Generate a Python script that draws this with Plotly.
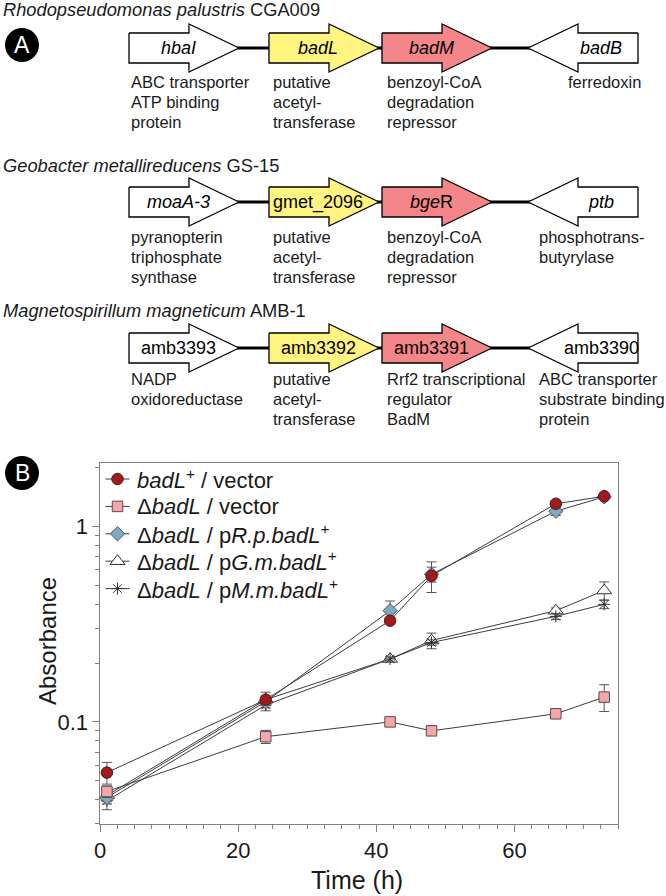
import plotly.graph_objects as go

# ---- panel B: growth curves ----
time_h = [1, 24, 42, 48, 66, 73]

wt_vector = [0.055, 0.130, 0.330, 0.560, 1.31, 1.43]
wt_vector_err = [0.007, 0.006, 0.012, 0.10, 0.05, 0.03]
del_vector = [0.044, 0.084, 0.100, 0.090, 0.110, 0.134]
del_vector_err = [0.003, 0.0065, 0.004, 0.003, 0.004, 0.021]
del_rp = [0.041, 0.127, 0.371, 0.570, 1.20, 1.42]
del_rp_err = [0.003, 0.006, 0.045, 0.05, 0.06, 0.03]
del_gm = [0.042, 0.130, 0.210, 0.261, 0.371, 0.471]
del_gm_err = [0.003, 0.012, 0.006, 0.024, 0.012, 0.05]
del_mm = [0.0395, 0.122, 0.210, 0.255, 0.347, 0.400]
del_mm_err = [0.004, 0.008, 0.005, 0.008, 0.012, 0.02]

series_names = [
    "<i>badL</i><sup>+</sup> / vector",
    "Δ<i>badL</i> / vector",
    "Δ<i>badL</i> / p<i>R.p.badL</i><sup>+</sup>",
    "Δ<i>badL</i> / p<i>G.m.badL</i><sup>+</sup>",
    "Δ<i>badL</i> / p<i>M.m.badL</i><sup>+</sup>",
]

# ---- panel A: gene neighbourhoods ----
species = [
    "<i>Rhodopseudomonas palustris</i> CGA009",
    "<i>Geobacter metallireducens</i> GS-15",
    "<i>Magnetospirillum magneticum</i> AMB-1",
]
gene_names = [
    ["<i>hbaI</i>", "<i>badL</i>", "<i>badM</i>", "<i>badB</i>"],
    ["<i>moaA-3</i>", "gmet_2096", "<i>bge</i>R", "<i>ptb</i>"],
    ["amb3393", "amb3392", "amb3391", "amb3390"],
]
gene_desc = [
    [["ABC transporter", "ATP binding", "protein"], ["putative", "acetyl-", "transferase"],
     ["benzoyl-CoA", "degradation", "repressor"], ["ferredoxin"]],
    [["pyranopterin", "triphosphate", "synthase"], ["putative", "acetyl-", "transferase"],
     ["benzoyl-CoA", "degradation", "repressor"], ["phosphotrans-", "butyrylase"]],
    [["NADP", "oxidoreductase"], ["putative", "acetyl-", "transferase"],
     ["Rrf2 transcriptional", "regulator", "BadM"], ["ABC transporter", "substrate binding", "protein"]],
]
gene_strand = [1, 1, 1, -1]
gene_role = ["other", "acetyltransferase", "regulator", "other"]

role_color = {"other": "white", "acetyltransferase": "#FFF47F", "regulator": "#F4868A"}

# layout of the schematic (pixel units on a hidden axis)
slot_left = [129, 269, 382, 528]
arrow_len = 110
row_center = [48, 202, 348]
title_y = [9, 165, 310]
desc_left = [[129, 271, 385, 566], [129, 271, 385, 537], [129, 271, 385, 537]]
desc_first = [34, 35, 31]
desc_step = 20

FONT = "Liberation Sans, Arial, sans-serif"
TXT = "#1a1a1a"


def arrow_xy(x0, length, yc, strand):
    body, head, head_len = 15, 24, 50
    if strand > 0:
        tail, tip = x0, x0 + length
        neck = tip - head_len
    else:
        tail, tip = x0 + length, x0
        neck = tip + head_len
    xs = [tail, neck, neck, tip, neck, neck, tail, tail]
    ys = [yc - body, yc - body, yc - head, yc, yc + head, yc + body, yc + body, yc - body]
    return xs, ys


fig = go.Figure()

annotations = []
for r in range(3):
    yc = row_center[r]
    # backbone line
    fig.add_trace(go.Scatter(x=[slot_left[0] + 60, slot_left[3] + 60], y=[yc, yc], mode="lines",
                             line=dict(color="black", width=3), xaxis="x2", yaxis="y2",
                             hoverinfo="skip"))
    for g in range(4):
        xs, ys = arrow_xy(slot_left[g], arrow_len, yc, gene_strand[g])
        fig.add_trace(go.Scatter(x=xs, y=ys, mode="lines", fill="toself",
                                 fillcolor=role_color[gene_role[g]],
                                 line=dict(color="black", width=1.3),
                                 xaxis="x2", yaxis="y2", hoverinfo="skip"))
        if gene_strand[g] > 0:
            lx = slot_left[g] + 49
        else:
            lx = slot_left[g] + arrow_len - 37
        annotations.append(dict(x=lx, y=yc, xref="x2", yref="y2", text=gene_names[r][g],
                                 showarrow=False, font=dict(family=FONT, size=18, color="black")))
        for k, line in enumerate(gene_desc[r][g]):
            annotations.append(dict(x=desc_left[r][g], y=yc + desc_first[r] + k * desc_step,
                                     xref="x2", yref="y2", text=line, showarrow=False,
                                     xanchor="left", yanchor="middle",
                                     font=dict(family=FONT, size=16.5, color=TXT)))
    annotations.append(dict(x=1, y=title_y[r], xref="x2", yref="y2", text=species[r],
                             showarrow=False, xanchor="left",
                             font=dict(family=FONT, size=18.3, color=TXT)))

# panel letters
shapes = []
for letter, cy in [("A", 45), ("B", 473)]:
    shapes.append(dict(type="circle", xref="x2", yref="y2", x0=5, x1=39, y0=cy - 17, y1=cy + 17,
                       fillcolor="black", line=dict(color="black", width=0)))
    annotations.append(dict(x=22, y=cy, xref="x2", yref="y2", text=letter, showarrow=False,
                             font=dict(family=FONT, size=23, color="white")))

# ---- growth traces ----
line_style = dict(color="#3c3c3c", width=1)
err_style = dict(type="data", visible=True, color="#555555", thickness=1, width=5)

styles = [
    dict(symbol="circle", size=11.5, color="#9E1B20", line=dict(color="#5a1212", width=1)),
    dict(symbol="square", size=10.5, color="#F4A7A9", line=dict(color="#5a4a4a", width=1)),
    dict(symbol="diamond", size=11, color="#7FA9BF", line=dict(color="#4a5a62", width=1)),
    dict(symbol="triangle-up", size=13, color="white", line=dict(color="#333333", width=1)),
    dict(symbol="asterisk-open", size=10, color="#333333", line=dict(color="#333333", width=1)),
]
values = [wt_vector, del_vector, del_rp, del_gm, del_mm]
errors = [wt_vector_err, del_vector_err, del_rp_err, del_gm_err, del_mm_err]

draw_order = [3, 4, 2, 1, 0]
for i in draw_order:
    fig.add_trace(go.Scatter(x=time_h, y=values[i], name=series_names[i], mode="lines+markers",
                             line=line_style, marker=styles[i],
                             error_y=dict(array=errors[i], **err_style)))

# hand-made legend (short sample lines, tight rows as in the original)
legend_x, legend_top, legend_step = 117.5, 479, 27.4
for i, name in enumerate(series_names):
    ly = legend_top + i * legend_step
    fig.add_trace(go.Scatter(x=[legend_x - 12, legend_x + 12], y=[ly, ly], mode="lines",
                             line=line_style, xaxis="x2", yaxis="y2", hoverinfo="skip"))
    fig.add_trace(go.Scatter(x=[legend_x], y=[ly], mode="markers", marker=styles[i],
                             xaxis="x2", yaxis="y2", hoverinfo="skip"))
    annotations.append(dict(x=legend_x + 17, y=ly, xref="x2", yref="y2", text=name,
                             showarrow=False, xanchor="left",
                             font=dict(family=FONT, size=22, color=TXT)))

# axis titles
annotations.append(dict(x=47, y=641, xref="x2", yref="y2", text="Absorbance", textangle=-90,
                         showarrow=False, font=dict(family=FONT, size=24, color=TXT)))
annotations.append(dict(x=357, y=880, xref="x2", yref="y2", text="Time (h)",
                         showarrow=False, font=dict(family=FONT, size=25, color=TXT)))

axis_col = "#808080"
fig.update_layout(
    width=666, height=896,
    margin=dict(l=0, r=0, t=0, b=0),
    paper_bgcolor="white", plot_bgcolor="rgba(0,0,0,0)",
    font=dict(family=FONT, color=TXT),
    showlegend=False,
    xaxis=dict(domain=[100 / 666, 618 / 666], range=[0, 75],
               tickvals=[0, 20, 40, 60],
               ticks="outside", ticklen=6.5, tickcolor=axis_col,
               minor=dict(dtick=2.5, ticks="outside", ticklen=4, tickcolor=axis_col),
               showline=True, linecolor=axis_col, linewidth=1.2, mirror=True,
               showgrid=False, zeroline=False, automargin=False,
               tickfont=dict(size=22, color=TXT)),
    yaxis=dict(domain=[(896 - 824) / 896, (896 - 463) / 896], type="log",
               range=[-1.523, 0.326],
               tickvals=[0.1, 1], ticktext=["0.1", "1"],
               ticks="outside", ticklen=6.5, tickcolor=axis_col,
               minor=dict(tickvals=[k / 100 for k in range(3, 10)] + [k / 10 for k in range(2, 10)] + [2],
                          ticks="outside", ticklen=4, tickcolor=axis_col),
               showline=True, linecolor=axis_col, linewidth=1.2, mirror=True,
               showgrid=False, zeroline=False, automargin=False,
               tickfont=dict(size=22, color=TXT)),
    xaxis2=dict(domain=[0, 1], range=[0, 666], visible=False, fixedrange=True),
    yaxis2=dict(domain=[0, 1], range=[896, 0], visible=False, fixedrange=True),
    annotations=annotations,
    shapes=shapes,
)

fig.write_html("out.html", config={"displayModeBar": False},
               post_script="document.body.style.margin='0';")
